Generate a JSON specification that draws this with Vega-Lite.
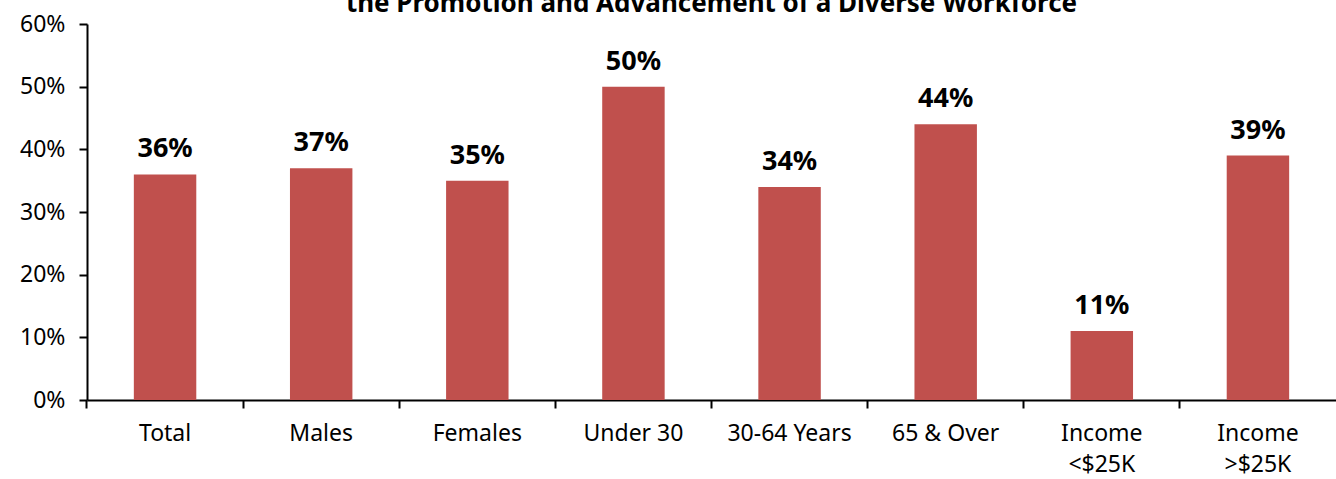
{
  "$schema": "https://vega.github.io/schema/vega-lite/v6.json",
  "width": 1249,
  "height": 376,
  "autosize": {"type": "none"},
  "padding": {"left": 87, "top": 24, "right": 0, "bottom": 79},
  "background": "white",
  "title": {
    "text": "the Promotion and Advancement of a Diverse Workforce",
    "font": "Noto Sans",
    "fontSize": 26,
    "fontWeight": "bold",
    "color": "black",
    "anchor": "middle",
    "offset": 0,
    "dy": 4
  },
  "config": {
    "view": {"stroke": null},
    "font": "Noto Sans",
    "axis": {"labelFont": "Noto Sans", "labelFontSize": 23, "labelColor": "black", "domainColor": "black", "tickColor": "black", "domainWidth": 2, "tickWidth": 2, "grid": false, "title": null}
  },
  "data": {
    "values": [
      {"group": "Total", "pct": 0.36},
      {"group": "Males", "pct": 0.37},
      {"group": "Females", "pct": 0.35},
      {"group": "Under 30", "pct": 0.50},
      {"group": "30-64 Years", "pct": 0.34},
      {"group": "65 & Over", "pct": 0.44},
      {"group": "Income <$25K", "pct": 0.11},
      {"group": "Income >$25K", "pct": 0.39}
    ]
  },
  "encoding": {
    "x": {
      "field": "group",
      "type": "nominal",
      "sort": null,
      "scale": {"paddingInner": 0.6, "paddingOuter": 0.3}
    },
    "y": {
      "field": "pct",
      "type": "quantitative",
      "scale": {"domain": [0, 0.6], "nice": false}
    }
  },
  "layer": [
    {
      "mark": {"type": "bar", "color": "#C0504D"},
      "encoding": {
        "x": {
          "field": "group",
          "type": "nominal",
          "sort": null,
          "axis": {"orient": "bottom", "bandPosition": -0.75, "labels": false, "domain": true, "ticks": true, "tickSize": 8, "labelAngle": 0}
        },
        "y": {
          "field": "pct",
          "type": "quantitative",
          "axis": {"format": ".0%", "values": [0, 0.1, 0.2, 0.3, 0.4, 0.5, 0.6], "tickSize": 8, "labelPadding": 14}
        }
      }
    },
    {
      "mark": {"type": "text", "fontWeight": "bold", "fontSize": 27, "font": "Noto Sans", "baseline": "alphabetic", "dy": -17, "color": "black"},
      "encoding": {
        "x": {
          "field": "group",
          "type": "nominal",
          "sort": null,
          "axis": {"orient": "bottom", "ticks": false, "domain": false, "labelAngle": 0, "labelPadding": 22, "labelLineHeight": 31, "labelBaseline": "top", "labelExpr": "indexof(datum.label, 'Income') == 0 ? split(datum.label, ' ') : datum.label"}
        },
        "text": {"field": "pct", "type": "quantitative", "format": ".0%"}
      }
    }
  ],
  "resolve": {"axis": {"x": "independent"}}
}
